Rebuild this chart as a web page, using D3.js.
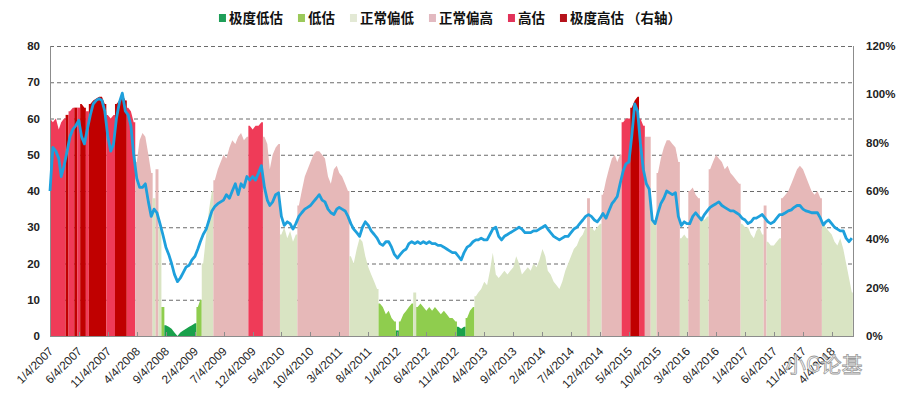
<!DOCTYPE html>
<html><head><meta charset="utf-8">
<script src="https://cdn.jsdelivr.net/npm/d3@7"></script>
<style>body{margin:0;background:#fff}svg{display:block}</style>
</head><body>
<svg id="chart" width="904" height="406"></svg>
<script>
// ---- data ----
const tickLabels = ["1/4/2007","6/4/2007","11/4/2007","4/4/2008","9/4/2008","2/4/2009","7/4/2009","12/4/2009","5/4/2010","10/4/2010","3/4/2011","8/4/2011","1/4/2012","6/4/2012","11/4/2012","4/4/2013","9/4/2013","2/4/2014","7/4/2014","12/4/2014","5/4/2015","10/4/2015","3/4/2016","8/4/2016","1/4/2017","6/4/2017","11/4/2017","4/4/2018"];
const leftTicks = [0,10,20,30,40,50,60,70,80];
const rightTicks = [0,20,40,60,80,100,120];
const zoneNames = ["极度低估","低估","正常偏低","正常偏高","高估","极度高估 （右轴）"];
const zoneColors = ["#19a14b","#8fcd4e","#d9e4c3","#e6b8b8","#ef3b58","#c00000"];
const legendColors = ["#1e9e58","#9bc95a","#e3e9d5","#e2b9c0","#e2335a","#b5121b"];
const lineColor = "#1ea0dc";

// sample dates: the 4th and 19th of every month, Jan 2007 - Jul 2018
const startYear = 2007, monthCount = 139;
const sampleDays = [4, 19];

// valuation line (left axis)
const peValues = [
40,52,51,49,44,47,51,55,57,58,
59.5,55,53,57,61,64,65,65.5,65,62,
55,51,53,60,64.5,67,62,61,58,50,
43.5,41,41,42,37,33,35,34,31,28,
24.5,22.5,20,17,15,16,17.5,19,19.5,21,
22,24,26,28,29.5,32,34.5,35.7,36.5,37,
37.5,39,38,40,42,39,42,41,44,43,
44,43,45,47,41,37.5,36,37,39,39.5,
33,30.5,31.5,31,29.5,31,33,34,35,35.5,
36,37,38,39,37.5,37,35,34,33.5,35,
35.5,35,34.5,33,31,29.5,28.5,27.5,30,31.5,
30.5,29,28,27,25.5,25,26,26,24.5,22.5,
21.5,22.5,23.5,24,25.5,26,25.5,26,25.5,26,
25.5,26,25.5,25.5,25,25,24.5,24,23.5,23,
23,22,21,23,24.5,25,26,26.5,26.5,27,
26.5,26.5,28,29.5,30,27.5,26.5,27.5,28,28.5,
29,29.5,30,29.5,28.5,28.5,28.5,29,29,29.5,
30,30.5,29.5,28.5,27.5,27,26.5,27,27.5,27.5,
28.5,29.5,30,31,32,33,33.5,33,32,31.5,
32.5,33.8,32.5,34.5,36.5,37.5,38.5,42,45.5,47.5,
48,55,64,62,53,46,42,40.5,32,31,
34,36.5,38,40,39.5,39,39.5,33,30.5,31.5,
31,31,33,34,33,32,33.5,34.5,35.5,36,
36.5,37,36,35.5,35,34.5,34.5,34,33.5,32.5,
32,31,31.5,32.5,32.5,33,33.5,32.5,31.5,31,
31.5,32.5,33.5,33.5,34,34.5,34.8,35.5,36,36,
35,34.5,34.3,34,34,34,32.5,30.6,31.5,32,
31,30,29.5,29,29,27,26,27];

// percentile (right axis, %)
const pctValues = [
90,88.5,90,85.5,88.5,90,91.5,93,94.5,94.5,
94.5,96,94.5,93,96,97.5,98.3,99,99,96,
91.5,90,91.5,96,97.5,100,97.5,94.5,93,88.5,
72,81,84,82.5,75,67.5,57,69,45,12,
4.5,3.8,3,1.5,0,1.5,2.3,3,3.8,4.5,
5.3,12,15,30,42,52.5,60,64.5,69,72,
75,73.5,78,81,79.5,82.5,84,81,82.5,87,
85.5,87,87,88.5,82.5,79.5,69,75,78,79.5,
42,45,40.5,43.5,39,42,54,60,66,69,
72,75,76.5,76.5,75,73.5,66,63,69,70.5,
67.5,66,63,60,33,30,36,40.5,39,33,
28.5,25.5,22.5,19.5,13.5,12,9,10.5,7.5,6,
2.3,6,9,10.5,12,13.5,18,12,13.5,12,
10.5,12,10.5,12,10.5,9,10.5,9,7.5,7.5,
6,3.8,3,3.8,7.5,10.5,12,16.5,18,19.5,
22.5,21,27,34.5,25.5,24,25.5,27,25.5,27,
28.5,33,30,25.5,27,28.5,27,30,28.5,31.5,
36,33,27,25.5,22.5,21,19.5,22.5,27,30,
33,36,37.5,40.5,42,45,57,45,43.5,45,
46.5,58.5,64.5,69,73.5,75,72,75,88.5,90,
90,94.5,97.5,99,90,87,82.5,82.5,48,48,
67.5,73.5,78,81,81,79.5,78,72,40.5,42,
40.5,60,61.5,58.5,57,49.5,48,49.5,69,72,
75,73.5,72,69,70.5,67.5,66,64.5,63,46.5,
45,45,42,40.5,43.5,45,42,54,39,37.5,
37.5,39,40.5,57,58.5,60,63,66,69,70.5,
69,66,63,60,58.5,60,57,46.5,45,43.5,
42,39,37.5,40.5,36,30,24,18];

// zone of each sample: 0 极度低估 … 5 极度高估
const zoneCodes = [
4,4,4,4,4,4,5,4,4,5,
4,5,5,4,5,5,5,5,5,5,
4,4,4,5,5,5,5,4,4,4,
3,3,3,3,3,3,2,3,2,1,
0,0,0,0,0,0,0,0,0,0,
0,1,1,2,2,2,2,3,3,3,
3,3,3,3,3,3,3,3,3,4,
4,4,4,4,3,3,3,3,3,3,
2,2,2,2,2,2,3,3,3,3,
3,3,3,3,3,3,3,3,3,3,
3,3,3,3,2,2,2,2,2,2,
2,2,2,2,1,1,1,1,1,1,
0,1,1,1,1,1,2,1,1,1,
1,1,1,1,1,1,1,1,1,1,
1,0,0,0,1,1,1,2,2,2,
2,2,2,2,2,2,2,2,2,2,
2,2,2,2,2,2,2,2,2,2,
2,2,2,2,2,2,2,2,2,2,
2,2,2,2,2,2,3,2,2,2,
2,3,3,3,3,3,3,3,4,4,
4,5,5,5,4,4,3,3,2,2,
3,3,3,3,3,3,3,3,2,2,
2,3,3,3,3,2,2,2,3,3,
3,3,3,3,3,3,3,3,3,2,
2,2,2,2,2,2,2,3,2,2,
2,2,2,3,3,3,3,3,3,3,
3,3,3,3,3,3,3,2,2,2,
2,2,2,2,2,2,2,2];

// ---- chart ----
const dates = d3.range(monthCount).flatMap(m => sampleDays.map(d => new Date(Date.UTC(startYear, m, d))));
const data = dates.map((d, i) => ({date: d, pe: peValues[i], pct: pctValues[i], zone: zoneCodes[i]}));

const svg = d3.select("#chart");
const M = {left: 50, right: 853, top: 46, bottom: 336};
const parse = d3.utcParse("%m/%d/%Y");
const x = d3.scaleUtc().domain([parse("1/4/2007"), new Date(Date.UTC(2018, 6, 25))]).range([M.left, M.right]);
const yL = d3.scaleLinear().domain([0, 80]).range([M.bottom, M.top]);
const yR = d3.scaleLinear().domain([0, 120]).range([M.bottom, M.top]);

// gridlines
svg.append("g").selectAll("line").data(leftTicks.filter(t => t > 0)).join("line")
  .attr("x1", M.left).attr("x2", M.right)
  .attr("y1", d => yL(d) + 0.5).attr("y2", d => yL(d) + 0.5)
  .attr("stroke", "#6b6b6b").attr("stroke-width", 1).attr("stroke-dasharray", "4,3");

// zone areas: contiguous runs of one zone
const runs = [];
data.forEach((d, i) => {
  const last = runs[runs.length - 1];
  if (last && last.zone === d.zone) last.idx.push(i);
  else runs.push({zone: d.zone, idx: [i]});
});
const area = d3.area().x(p => p.x).y0(yR(0)).y1(p => yR(p.v));
const gA = svg.append("g");
runs.forEach(r => {
  const i0 = r.idx[0], i1 = r.idx[r.idx.length - 1];
  const xl = i0 > 0 ? (x(dates[i0 - 1]) + x(dates[i0])) / 2 : x(dates[i0]);
  const xr = i1 < dates.length - 1 ? (x(dates[i1]) + x(dates[i1 + 1])) / 2 : Math.min(M.right, x(dates[i1]) + 1);
  const pts = [{x: xl, v: data[i0].pct}]
    .concat(r.idx.map(i => ({x: x(dates[i]), v: data[i].pct})))
    .concat([{x: xr, v: data[i1].pct}]);
  gA.append("path").attr("d", area(pts)).attr("fill", zoneColors[r.zone]);
});

// axes lines
const axC = "#8c8c8c";
svg.append("line").attr("x1", M.left + 0.5).attr("x2", M.left + 0.5).attr("y1", M.top).attr("y2", M.bottom).attr("stroke", axC);
svg.append("line").attr("x1", M.right + 0.5).attr("x2", M.right + 0.5).attr("y1", M.top).attr("y2", M.bottom).attr("stroke", axC);
svg.append("line").attr("x1", M.left).attr("x2", M.right + 1).attr("y1", M.bottom + 0.5).attr("y2", M.bottom + 0.5).attr("stroke", axC);

// x ticks (inside) + labels
const tickDates = tickLabels.map(parse);
svg.append("g").selectAll("line").data(tickDates).join("line")
  .attr("x1", d => Math.round(x(d)) + 0.5).attr("x2", d => Math.round(x(d)) + 0.5)
  .attr("y1", M.bottom).attr("y2", M.bottom - 4).attr("stroke", axC);
svg.append("g").selectAll("text").data(tickLabels).join("text")
  .attr("transform", s => `translate(${x(parse(s)) + 4},${M.bottom + 16}) rotate(-45)`)
  .attr("text-anchor", "end")
  .attr("font-family", "Liberation Sans, Arial, sans-serif").attr("font-size", 11.8).attr("fill", "#222")
  .text(s => s);

// left axis labels
svg.append("g").selectAll("text").data(leftTicks).join("text")
  .attr("x", 40).attr("y", d => yL(d) + 4).attr("text-anchor", "end")
  .attr("font-family", "Liberation Sans, Arial, sans-serif").attr("font-size", 11.5).attr("font-weight", "bold").attr("fill", "#222")
  .text(d => d);
// right axis labels
svg.append("g").selectAll("text").data(rightTicks).join("text")
  .attr("x", 866).attr("y", d => yR(d) + 4).attr("text-anchor", "start")
  .attr("font-family", "Liberation Sans, Arial, sans-serif").attr("font-size", 11.5).attr("font-weight", "bold").attr("fill", "#222")
  .text(d => d + "%");

// PE line
const line = d3.line().x(d => x(d.date)).y(d => yL(d.pe));
svg.append("path").datum(data).attr("d", line).attr("fill", "none")
  .attr("stroke", lineColor).attr("stroke-width", 2.8).attr("stroke-linejoin", "round");

// legend
const lg = svg.append("g");
let cx = 0;
zoneNames.forEach((n, i) => {
  const it = lg.append("g").attr("transform", `translate(${cx},0)`);
  it.append("rect").attr("x", 0).attr("y", 14).attr("width", 7).attr("height", 8).attr("fill", legendColors[i]);
  const t = it.append("text").attr("x", 10).attr("y", 23)
    .attr("font-family", "Noto Sans CJK SC, sans-serif").attr("font-size", 13.5).attr("font-weight", "bold").attr("fill", "#111")
    .text(n);
  cx += 10 + t.node().getComputedTextLength() + 15;
});
const lw = cx - 15;
lg.attr("transform", `translate(${450 - lw / 2},0)`);

// watermark
svg.append("text").attr("x", 785).attr("y", 372).attr("font-family", "Noto Sans CJK SC, sans-serif")
  .attr("font-size", 21).attr("fill", "#fff").attr("stroke", "#9a9a9a").attr("stroke-width", 0.8)
  .text("小G论基");
</script>
</body></html>
